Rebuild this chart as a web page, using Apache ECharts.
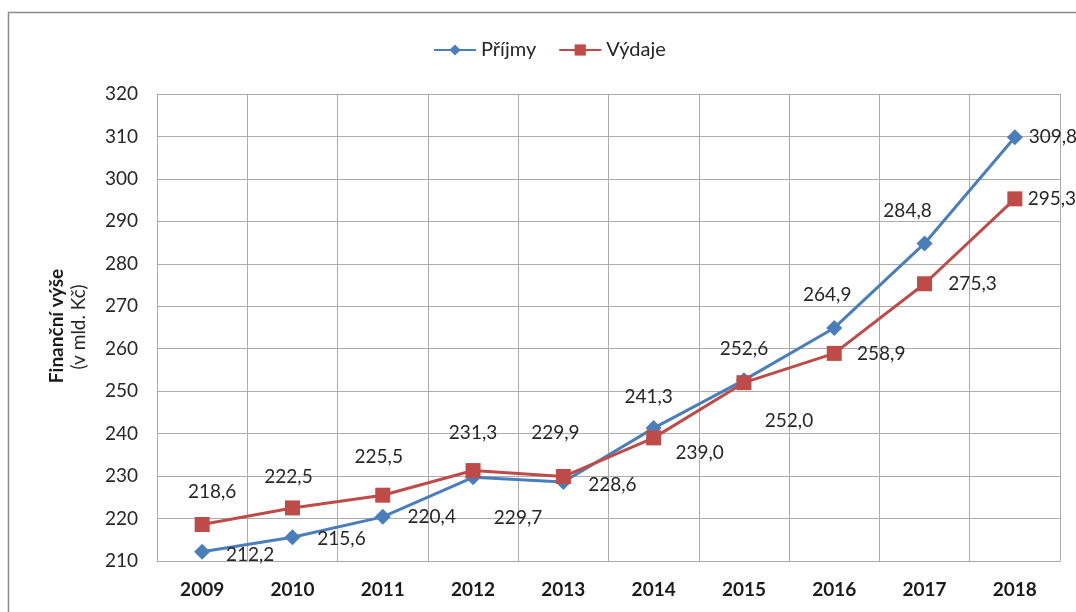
<!DOCTYPE html>
<html>
<head>
<meta charset="utf-8">
<script src="https://cdn.jsdelivr.net/npm/echarts@6/dist/echarts.min.js"></script>
<style>
html,body{margin:0;padding:0;background:#fff;}
#chart{width:1076px;height:612px;}
</style>
</head>
<body>
<div id="chart"></div>
<script>
const categories = ['2009','2010','2011','2012','2013','2014','2015','2016','2017','2018'];
const prijmy = [212.2, 215.6, 220.4, 229.7, 228.6, 241.3, 252.6, 264.9, 284.8, 309.8];
const vydaje = [218.6, 222.5, 225.5, 231.3, 229.9, 239.0, 252.0, 258.9, 275.3, 295.3];
const seriesNames = ['Příjmy', 'Výdaje'];
const yMin = 210, yMax = 320, yStep = 10;
const axisTitle = 'Finanční výše';
const axisSubtitle = '(v mld. Kč)';

// label placement (offset of label centre from point centre), layout only
const prijmyLabelOffsets = [[48,3],[49,2],[49,0],[45,41],[49,3],[-5,-31],[0,-31],[-7,-33],[-17,-33],[38,0]];
const vydajeLabelOffsets = [[10,-33],[-4,-31],[-4,-38],[0,-38],[-8,-44],[46,15],[45,38],[47,0],[48,0],[37,0]];

const FONT = 'Lato';
const fmt = v => v.toFixed(1).replace('.', ',');

function buildData(values, offsets) {
  return values.map((v, i) => ({
    value: v,
    label: { show: true, position: 'inside', offset: offsets[i] }
  }));
}

const chart = echarts.init(document.getElementById('chart'), null, {renderer: 'canvas'});
const gridColor = '#ABABAB';
chart.setOption({
  backgroundColor: '#ffffff',
  animation: false,
  textStyle: { fontFamily: FONT },
  legend: {
    left: 428, top: 35,
    itemWidth: 42, itemHeight: 14, itemGap: 22,
    textStyle: { fontFamily: FONT, fontSize: 20, color: '#262626' },
    data: seriesNames
  },
  grid: { left: 157, right: 16, top: 94, bottom: 51, containLabel: false },
  xAxis: {
    type: 'category',
    data: categories,
    boundaryGap: true,
    axisLine: { show: true, lineStyle: { color: gridColor, width: 1 } },
    axisTick: { show: false },
    splitLine: { show: true, lineStyle: { color: gridColor, width: 1 } },
    axisLabel: { margin: 19, fontFamily: FONT, fontSize: 19, fontWeight: 'bold', color: '#1a1a1a' }
  },
  yAxis: {
    type: 'value',
    min: yMin, max: yMax, interval: yStep,
    axisLine: { show: true, lineStyle: { color: gridColor, width: 1 } },
    axisTick: { show: false },
    splitLine: { show: true, lineStyle: { color: gridColor, width: 1 } },
    axisLabel: { margin: 19, fontFamily: FONT, fontSize: 19, color: '#262626' }
  },
  graphic: [
    { type: 'rect', silent: true, z: -1,
      shape: { x: 8.5, y: 12.5, width: 1200, height: 700 },
      style: { fill: 'none', stroke: '#8c8c8c', lineWidth: 1.5 } },
    { type: 'text', x: 57, y: 326, rotation: Math.PI / 2,
      style: { text: axisTitle, font: 'bold 19px ' + FONT, fill: '#1a1a1a', align: 'center', verticalAlign: 'middle' } },
    { type: 'text', x: 79, y: 327, rotation: Math.PI / 2,
      style: { text: axisSubtitle, font: '19px ' + FONT, fill: '#262626', align: 'center', verticalAlign: 'middle' } }
  ],
  series: [
    {
      name: seriesNames[0], type: 'line',
      data: buildData(prijmy, prijmyLabelOffsets),
      symbol: 'diamond', symbolSize: 16,
      lineStyle: { color: '#4A7EBB', width: 3 },
      itemStyle: { color: '#4A7EBB' },
      label: { fontFamily: FONT, fontSize: 19, color: '#262626', formatter: p => fmt(p.value) },
      z: 3
    },
    {
      name: seriesNames[1], type: 'line',
      data: buildData(vydaje, vydajeLabelOffsets),
      symbol: 'rect', symbolSize: 15,
      lineStyle: { color: '#BE4B48', width: 3 },
      itemStyle: { color: '#BE4B48' },
      label: { fontFamily: FONT, fontSize: 19, color: '#262626', formatter: p => fmt(p.value) },
      z: 4
    }
  ]
});
</script>
</body>
</html>
